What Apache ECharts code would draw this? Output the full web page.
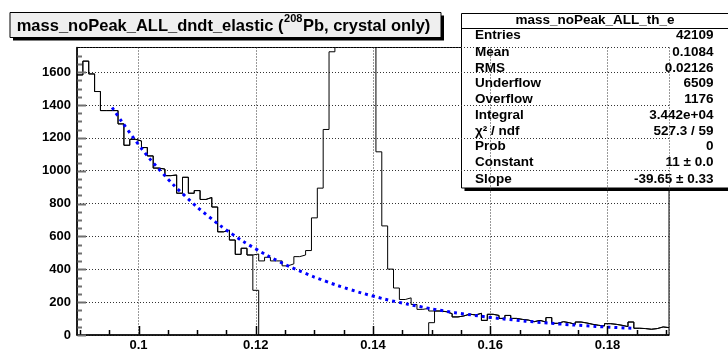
<!DOCTYPE html>
<html><head><meta charset="utf-8">
<script src="https://cdn.jsdelivr.net/npm/echarts@6/dist/echarts.min.js"></script>
<style>html,body{margin:0;padding:0;background:#fff}#c{width:728px;height:352px}</style>
</head><body><div id="c"></div>
<script>
// ---- data ----
const binLowEdge = 0.0895;   // first bin low edge
const binWidth = 0.001;      // bin width
const countsAll = [
  1583,1667,1589,1482,1366,1366,1366,1285,1155,1191,
  1181,1141,1090,1016,1010,970,974,863,960,863,
  879,825,837,779,628,638,578,491,528,487,
  493,451,473,451,451,421,433,477,487,514,
  713,894,1251,1724,2300,3000,3500,3600,3300,2700,
  2000,1115,664,401,286,216,226,186,156,162,
  146,146,142,130,110,116,127,122,132,89,
  126,119,101,119,101,95,91,81,89,79,
  106,71,81,75,65,79,73,65,59,55,
  69,65,59,51,79,41,39,35,39,49,
  45
];
const countsNoPeak = [
  1583,1667,1589,1482,1366,1366,1366,1285,1155,1191,
  1181,1141,1090,1016,1010,970,974,863,960,863,
  879,825,837,779,628,638,578,491,528,487,
  272,0,0,0,0,0,0,0,0,0,
  0,0,0,0,0,0,0,0,0,0,
  0,0,0,0,0,0,0,0,0,0,
  75,146,142,130,110,116,127,122,132,89,
  126,119,101,119,101,95,91,81,89,79,
  106,71,81,75,65,79,73,65,59,55,
  69,65,59,51,79,41,39,35,39,49,
  45
];
const fitX = [0.0955,0.100,0.104,0.108,0.112,0.116,0.120,0.124,0.128,0.132,0.136,0.140,0.144,0.148,0.152,0.156,0.160,0.164,0.168,0.172,0.176,0.180,0.1845];
const fitY = [1385,1159,989,844,720,614,524,447,382,326,278,237,202,173,147,126,107,91.5,78,66.6,56.8,48.5,40.6];
const xTickLabels = [0.1,0.12,0.14,0.16,0.18];
const yTickLabels = [0,200,400,600,800,1000,1200,1400,1600];
const titleParts = ['mass_noPeak_ALL_dndt_elastic (', '208', 'Pb, crystal only)'];
const statsTitle = 'mass_noPeak_ALL_th_e';
const statsNames = ['Entries','Mean','RMS','Underflow','Overflow','Integral','χ² / ndf','Prob','Constant','Slope'];
const statsValues = ['42109','0.1084','0.02126','6509','1176','3.442e+04','527.3 / 59','0','11 ± 0.0','-39.65 ± 0.33'];

// ---- build ----
const xMin = binLowEdge, xMax = binLowEdge + countsAll.length * binWidth;
const yMax = 1750;
function histData(counts){
  const d = counts.map((v,i)=>[binLowEdge + i*binWidth, v]);
  d.push([xMax, counts[counts.length-1]]);
  return d;
}
const fitData = fitX.map((x,i)=>[x, fitY[i]]);
const xTickVals = []; for (let k=0;k<=20;k++) xTickVals.push(+(0.09 + k*0.005).toFixed(4));
const yTickVals = []; for (let k=0;k<=34;k++) yTickVals.push(k*50);

const FONT = '"Liberation Sans", Arial, sans-serif';
const ctx = document.createElement('canvas').getContext('2d');
ctx.font = 'bold 16.5px ' + FONT;
const w1 = ctx.measureText(titleParts[0]).width;
ctx.font = 'bold 11px ' + FONT;
const w2 = ctx.measureText(titleParts[1]).width;

const gridL = 77, gridT = 47.5, gridR = 728-669, gridB = 352-337.5;
const chart = echarts.init(document.getElementById('c'), null, {renderer:'canvas'});
const gridStyle = {color:'#333', width:1, type:[1,2]};
const labelStyle = {color:'#000', fontWeight:'bold', fontSize:13, fontFamily:FONT};

const statsRowsY = [35,52.5,67.8,83.4,99.1,115,131,146.7,162.7,178.8];
const graphic = [
  {type:'rect', shape:{x:13,y:15.5,width:431,height:25}, style:{fill:'#000'}},
  {type:'rect', shape:{x:10,y:12.5,width:431,height:25}, style:{fill:'#efefef', stroke:'#000', lineWidth:1}},
  {type:'text', x:16.7, y:26.5, style:{text:titleParts[0], font:'bold 16.5px '+FONT, fill:'#000', verticalAlign:'middle'}},
  {type:'text', x:16.7+w1+0.5, y:19.2, style:{text:titleParts[1], font:'bold 11px '+FONT, fill:'#000', verticalAlign:'middle'}},
  {type:'text', x:16.7+w1+w2+1, y:26.5, style:{text:titleParts[2], font:'bold 16.5px '+FONT, fill:'#000', verticalAlign:'middle'}},
  {type:'rect', shape:{x:464.5,y:16.5,width:270,height:174.5}, style:{fill:'#000'}},
  {type:'rect', shape:{x:461.5,y:13.5,width:270,height:174.5}, style:{fill:'#fff', stroke:'#000', lineWidth:1}},
  {type:'line', shape:{x1:461.5,y1:28.5,x2:731,y2:28.5}, style:{stroke:'#000', lineWidth:1}},
  {type:'text', x:595, y:20, style:{text:statsTitle, font:'bold 13.5px '+FONT, fill:'#000', align:'center', verticalAlign:'middle'}}
];
statsNames.forEach((n,i)=>{
  graphic.push({type:'text', x:475, y:statsRowsY[i], style:{text:n, font:'bold 13.5px '+FONT, fill:'#000', verticalAlign:'middle'}});
  graphic.push({type:'text', x:713.5, y:statsRowsY[i], style:{text:statsValues[i], font:'bold 13.5px '+FONT, fill:'#000', align:'right', verticalAlign:'middle'}});
});

chart.setOption({
  animation:false,
  backgroundColor:'#fff',
  grid:{left:gridL, top:gridT, right:gridR, bottom:gridB, show:true, borderColor:'#000', borderWidth:1, backgroundColor:'transparent'},
  xAxis:{type:'value', min:xMin, max:xMax, position:'bottom',
     axisLine:{show:true, onZero:false, lineStyle:{color:'#000', width:1.5}},
     axisTick:{show:false},
     axisLabel:{show:true, customValues:xTickLabels, margin:4, ...labelStyle, formatter:v=>String(+(+v).toFixed(4))},
     splitLine:{show:true, lineStyle:gridStyle}},
  yAxis:{type:'value', min:0, max:yMax, interval:200, position:'left',
     axisLine:{show:true, onZero:false, lineStyle:{color:'#000', width:1.5}},
     axisTick:{show:false},
     axisLabel:{show:true, customValues:yTickLabels, margin:6, ...labelStyle, formatter:v=>String(v)},
     splitLine:{show:true, lineStyle:gridStyle}},
  series:[
    {type:'line', name:'all', step:'end', data:histData(countsAll), showSymbol:false, clip:true,
     lineStyle:{color:'#000', width:1}, z:3},
    {type:'line', name:'noPeak', step:'end', data:histData(countsNoPeak), showSymbol:false, clip:true,
     lineStyle:{color:'#000', width:1}, z:3},
    {type:'line', name:'fit', data:fitData, smooth:true, showSymbol:false, clip:true,
     lineStyle:{color:'#0000ff', width:3, type:[3,4], cap:'butt'}, z:4}
  ],
  graphic: graphic
});

// tick marks placed through the axis scales (convertToPixel)
const tickEls = [];
yTickVals.forEach(v=>{
  const p = chart.convertToPixel({gridIndex:0}, [xMin, v]);
  const len = yTickLabels.indexOf(v)>=0 ? 9 : 5;
  tickEls.push({type:'line', silent:true, z:100, shape:{x1:p[0]+0.5, y1:Math.round(p[1])+0.5, x2:p[0]+len, y2:Math.round(p[1])+0.5}, style:{stroke:'#707070', lineWidth:2}});
});
xTickVals.forEach(v=>{
  const p = chart.convertToPixel({gridIndex:0}, [v, 0]);
  const len = xTickLabels.some(t=>Math.abs(t-v)<1e-9) ? 9 : 5;
  tickEls.push({type:'line', silent:true, z:100, shape:{x1:Math.round(p[0])+0.5, y1:p[1]-0.5, x2:Math.round(p[0])+0.5, y2:p[1]-len}, style:{stroke:'#000', lineWidth:1.5}});
});
chart.setOption({graphic: graphic.concat(tickEls)});
</script></body></html>
